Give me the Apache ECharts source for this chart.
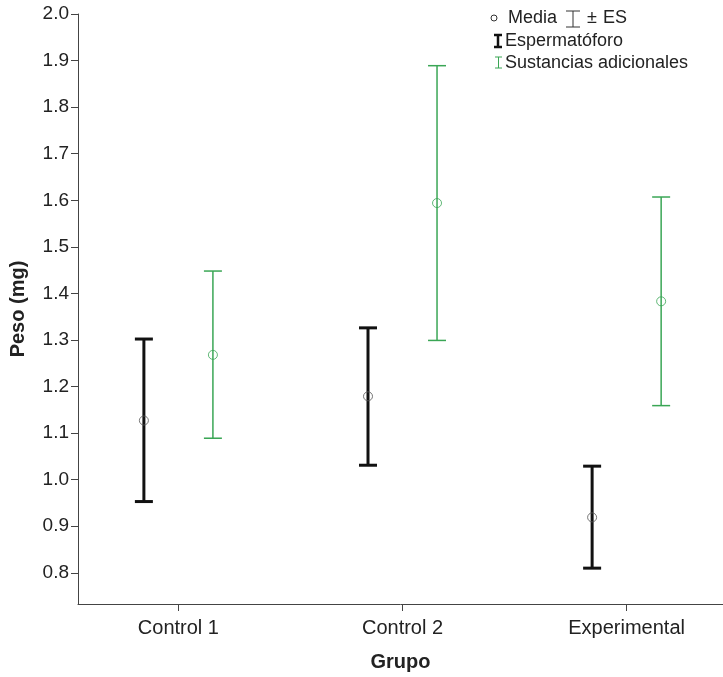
<!DOCTYPE html>
<html>
<head>
<meta charset="utf-8">
<script src="https://cdn.jsdelivr.net/npm/echarts@6/dist/echarts.min.js"></script>
<style>
  html, body { margin: 0; padding: 0; background: #fff; }
  #chart { width: 723px; height: 677px; }
</style>
</head>
<body>
<div id="chart"></div>
<script>
// datos
const grupos = ['Control 1', 'Control 2', 'Experimental'];
const yTicks = [0.8, 0.9, 1.0, 1.1, 1.2, 1.3, 1.4, 1.5, 1.6, 1.7, 1.8, 1.9, 2.0];

const espMedia = [1.127, 1.179, 0.919];
const espBajo  = [0.953, 1.031, 0.810];
const espAlto  = [1.302, 1.326, 1.029];

const susMedia = [1.268, 1.594, 1.383];
const susBajo  = [1.089, 1.299, 1.159];
const susAlto  = [1.448, 1.889, 1.607];

const FONT = 'Liberation Sans, Arial, sans-serif';
const VERDE = '#3aa655';
const DESPLAZ = 0.154;   // separación dentro de cada grupo

const chart = echarts.init(document.getElementById('chart'));

// barras de error: linea vertical + dos topes
function barraError(color, grosor, tope) {
    return function (params, api) {
        const x = api.value(0);
        const a = api.coord([x, api.value(2)]);
        const b = api.coord([x, api.value(1)]);
        const st = { stroke: color, lineWidth: grosor };
        return {
            type: 'group',
            children: [
                { type: 'line', shape: { x1: a[0], y1: a[1], x2: b[0], y2: b[1] }, style: st },
                { type: 'line', shape: { x1: a[0] - tope, y1: a[1], x2: a[0] + tope, y2: a[1] }, style: st },
                { type: 'line', shape: { x1: b[0] - tope, y1: b[1], x2: b[0] + tope, y2: b[1] }, style: st }
            ]
        };
    };
}

const espBarras = grupos.map((g, i) => [i - DESPLAZ, espBajo[i], espAlto[i]]);
const susBarras = grupos.map((g, i) => [i + DESPLAZ, susBajo[i], susAlto[i]]);
const espPuntos = grupos.map((g, i) => [i - DESPLAZ, espMedia[i]]);
const susPuntos = grupos.map((g, i) => [i + DESPLAZ, susMedia[i]]);

const txt = (t, x, y, fill) => ({
    type: 'text', x: x, y: y,
    style: { text: t, font: '18px ' + FONT, fill: fill || '#222', verticalAlign: 'middle' }
});
const raya = (x1, y1, x2, y2, color, w) => ({
    type: 'line', shape: { x1: x1, y1: y1, x2: x2, y2: y2 }, style: { stroke: color, lineWidth: w }
});

const option = {
    backgroundColor: '#fff',
    animation: false,
    grid: { left: 77, right: 0, top: 14, bottom: 73 },
    xAxis: {
        type: 'value',
        min: -0.448,
        max: 2.43,
        name: 'Grupo',
        nameLocation: 'middle',
        nameGap: 48,
        nameTextStyle: { fontFamily: FONT, fontSize: 20, fontWeight: 'bold', color: '#222' },
        splitLine: { show: false },
        axisLine: { show: true, onZero: false, lineStyle: { color: '#444', width: 1 } },
        axisTick: { show: true, length: 7, customValues: [0, 1, 2], lineStyle: { color: '#444' } },
        axisLabel: {
            customValues: [0, 1, 2],
            margin: 14,
            fontFamily: FONT,
            fontSize: 20,
            color: '#222',
            formatter: v => grupos[Math.round(v)]
        }
    },
    yAxis: {
        type: 'value',
        min: 0.733,
        max: 2.0,
        name: 'Peso (mg)',
        nameLocation: 'middle',
        nameGap: 50,
        nameTextStyle: { fontFamily: FONT, fontSize: 20, fontWeight: 'bold', color: '#222' },
        splitLine: { show: false },
        axisLine: { show: true, onZero: false, lineStyle: { color: '#444', width: 1 } },
        axisTick: { show: true, length: 7, customValues: yTicks, lineStyle: { color: '#444' } },
        axisLabel: {
            customValues: yTicks,
            margin: 9,
            fontFamily: FONT,
            fontSize: 19,
            color: '#222',
            formatter: v => v.toFixed(1)
        }
    },
    graphic: [
        { type: 'circle', shape: { cx: 494, cy: 18, r: 3 }, style: { fill: 'none', stroke: '#333', lineWidth: 1 } },
        txt('Media', 508, 18),
        raya(566, 11, 580, 11, '#333', 1),
        raya(573, 11, 573, 27, '#333', 1),
        raya(566, 27, 580, 27, '#333', 1),
        txt('±', 587, 18),
        txt('ES', 603, 18),
        raya(494, 35, 502, 35, '#111', 2.5),
        raya(498, 35, 498, 47, '#111', 2.5),
        raya(494, 47, 502, 47, '#111', 2.5),
        txt('Espermatóforo', 505, 41),
        raya(495, 57, 502, 57, VERDE, 1),
        raya(498.5, 57, 498.5, 68, VERDE, 1),
        raya(495, 68, 502, 68, VERDE, 1),
        txt('Sustancias adicionales', 505, 63)
    ],
    series: [{
        name: 'Espermatóforo',
        type: 'custom',
        renderItem: barraError('#111', 3, 9),
        data: espBarras,
        z: 2
    }, {
        name: 'Sustancias adicionales',
        type: 'custom',
        renderItem: barraError(VERDE, 1.5, 9),
        data: susBarras,
        z: 2
    }, {
        type: 'scatter',
        symbol: 'circle',
        symbolSize: 9,
        itemStyle: { color: 'rgba(0,0,0,0)', borderColor: '#555', borderWidth: 1 },
        data: espPuntos,
        z: 3
    }, {
        type: 'scatter',
        symbol: 'circle',
        symbolSize: 9,
        itemStyle: { color: 'rgba(0,0,0,0)', borderColor: VERDE, borderWidth: 1 },
        data: susPuntos,
        z: 3
    }]
};

chart.setOption(option);
</script>
</body>
</html>
